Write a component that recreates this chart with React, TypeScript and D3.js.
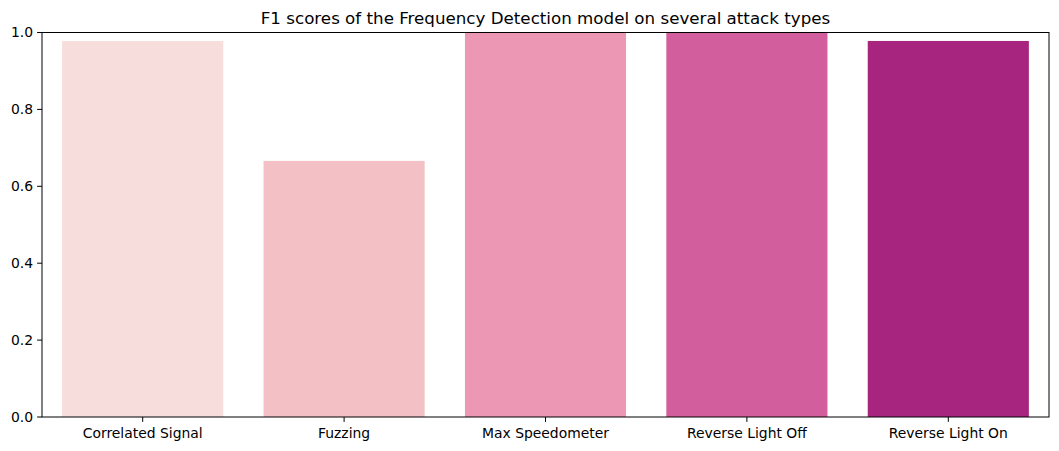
import React from "react";
import * as d3 from "d3";

const categories = ["Correlated Signal", "Fuzzing", "Max Speedometer", "Reverse Light Off", "Reverse Light On"];
const values = [0.978, 0.666, 1.0, 1.0, 0.978];
const colors = ["#f7dedd", "#f3c1c5", "#ec98b5", "#d35e9d", "#a7247f"];
const yTicks = [0, 0.2, 0.4, 0.6, 0.8, 1.0];
const title = "F1 scores of the Frequency Detection model on several attack types";

export default function App() {
  const W = 1059, H = 451;
  const left = 42, right = 1049, top = 32.5, bottom = 417;
  const x = d3.scaleBand().domain(categories).range([left, right]).paddingInner(0.2).paddingOuter(0.1);
  const y = d3.scaleLinear().domain([0, 1]).range([bottom, top]);
  const font = "DejaVu Sans, sans-serif";
  return (
    <svg width={W} height={H} style={{ position: "absolute", left: 0, top: 0 }}>
      <rect width={W} height={H} fill="#fff" />
      {categories.map((c, i) => (
        <rect key={c} x={x(c)} y={y(values[i])} width={x.bandwidth()} height={bottom - y(values[i])} fill={colors[i]} />
      ))}
      <rect x={left} y={top} width={right - left} height={bottom - top} fill="none" stroke="#000" strokeWidth={1} />
      {yTicks.map((t) => (
        <g key={t}>
          <line x1={left - 4.9} x2={left} y1={y(t)} y2={y(t)} stroke="#000" strokeWidth={1} />
          <text x={left - 9} y={y(t)} dy="0.35em" textAnchor="end" fontFamily={font} fontSize={13.9} fill="#000">
            {d3.format(".1f")(t)}
          </text>
        </g>
      ))}
      {categories.map((c) => {
        const cx = (x(c) as number) + x.bandwidth() / 2;
        return (
          <g key={c}>
            <line x1={cx} x2={cx} y1={bottom} y2={bottom + 4.9} stroke="#000" strokeWidth={1} />
            <text x={cx} y={bottom + 21} textAnchor="middle" fontFamily={font} fontSize={13.9} fill="#000">
              {c}
            </text>
          </g>
        );
      })}
      <text x={(left + right) / 2} y={24} textAnchor="middle" fontFamily={font} fontSize={16.7} fill="#000">
        {title}
      </text>
    </svg>
  );
}
